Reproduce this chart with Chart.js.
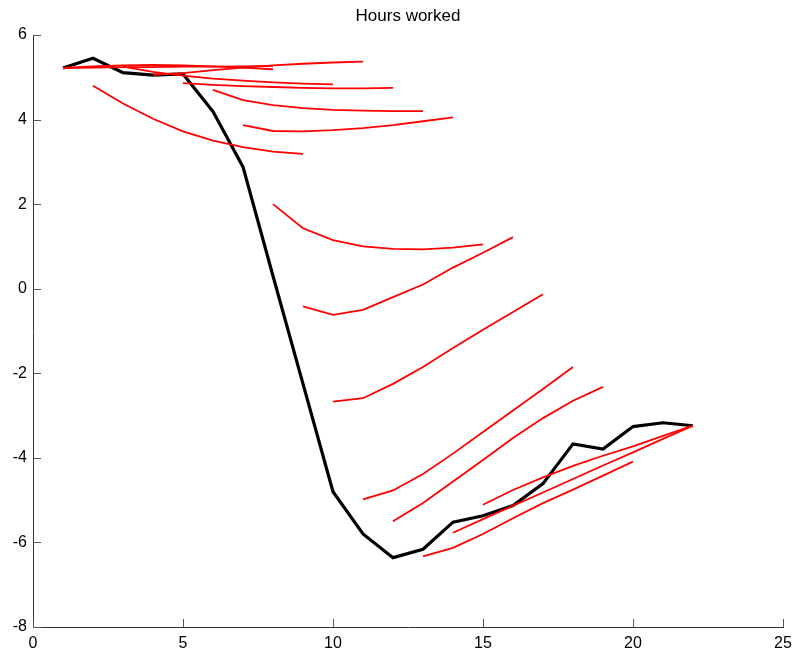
<!DOCTYPE html>
<html>
<head>
<meta charset="utf-8">
<script src="https://cdn.jsdelivr.net/npm/chart.js@4"></script>
<style>
  html, body { margin: 0; padding: 0; background: #fff; }
  #wrap { width: 795px; height: 658px; }
</style>
</head>
<body>
<div id="wrap"><canvas id="hoursChart" width="795" height="658"></canvas></div>
<script>
// actual series (black)
const periods = [1, 2, 3, 4, 5, 6, 7, 8, 9, 10, 11, 12, 13, 14, 15, 16, 17, 18, 19, 20, 21, 22];
const actual = [5.22, 5.45, 5.11, 5.05, 5.08, 4.19, 2.88, 0.3, -2.25, -4.8, -5.8, -6.36,
                -6.16, -5.52, -5.37, -5.13, -4.61, -3.67, -3.79, -3.26, -3.17, -3.24];

// forecast paths (red), each starts at a period
const forecastStarts = [1, 1, 2, 3, 4, 5, 6, 7, 8, 9, 10, 11, 12, 13, 14, 15];
const fc1a = [5.22, 5.26, 5.28, 5.29, 5.28, 5.26, 5.23, 5.19];
const fc1b = [5.22, 5.23, 5.24, 5.24, 5.25, 5.25, 5.26, 5.27];
const fc2 = [4.8, 4.38, 4.02, 3.72, 3.5, 3.35, 3.24, 3.19];
const fc3 = [5.25, 5.13, 5.04, 4.97, 4.92, 4.88, 4.85, 4.83];
const fc4 = [5.06, 5.1, 5.17, 5.23, 5.28, 5.32, 5.35, 5.37];
const fc5 = [4.86, 4.82, 4.79, 4.77, 4.75, 4.74, 4.74, 4.75];
const fc6 = [4.7, 4.46, 4.34, 4.27, 4.23, 4.21, 4.2, 4.2];
const fc7 = [3.87, 3.73, 3.72, 3.75, 3.8, 3.87, 3.96, 4.05];
const fc8 = [2.0, 1.43, 1.15, 1.0, 0.94, 0.93, 0.97, 1.05];
const fc9 = [-0.42, -0.62, -0.5, -0.2, 0.1, 0.5, 0.85, 1.22];
const fc10 = [-2.67, -2.59, -2.25, -1.85, -1.4, -0.97, -0.55, -0.13];
const fc11 = [-4.98, -4.77, -4.38, -3.9, -3.39, -2.88, -2.37, -1.85];
const fc12 = [-5.5, -5.07, -4.56, -4.05, -3.53, -3.06, -2.65, -2.32];
const fc13 = [-6.33, -6.13, -5.8, -5.43, -5.07, -4.75, -4.42, -4.09];
const fc14 = [-5.77, -5.45, -5.13, -4.82, -4.5, -4.18, -3.87, -3.55, -3.24];
const fc15 = [-5.11, -4.76, -4.46, -4.19, -3.95, -3.73, -3.48, -3.24];
const forecasts = [fc1a, fc1b, fc2, fc3, fc4, fc5, fc6, fc7, fc8, fc9, fc10, fc11, fc12, fc13, fc14, fc15];

// axis ticks
const xTicks = [0, 5, 10, 15, 20, 25];
const yTicks = [-8, -6, -4, -2, 0, 2, 4, 6];
const chartTitle = 'Hours worked';

const FONT = '"Liberation Sans", Arial, Helvetica, sans-serif';

function toPoints(start, vals) {
    return vals.map((v, i) => ({ x: start + i, y: v }));
}

const datasets = forecasts.map((vals, i) => ({
    label: 'forecast ' + forecastStarts[i],
    data: toPoints(forecastStarts[i], vals),
    borderColor: '#ff0000',
    borderWidth: 1.8,
    pointRadius: 0,
    tension: 0,
    order: 0
}));

datasets.push({
    label: chartTitle,
    data: periods.map((p, i) => ({ x: p, y: actual[i] })),
    borderColor: '#000000',
    borderWidth: 3.2,
    pointRadius: 0,
    tension: 0,
    order: 1
});

// tick marks pointing into the plot + title centred over the plot area
const axesExtras = {
    id: 'axesExtras',
    afterDraw(chart) {
        const { ctx, chartArea, scales } = chart;
        ctx.save();
        ctx.strokeStyle = '#555';
        ctx.lineWidth = 1;
        ctx.beginPath();
        scales.x.ticks.forEach(t => {
            const px = Math.round(scales.x.getPixelForValue(t.value)) + 0.5;
            ctx.moveTo(px, chartArea.bottom);
            ctx.lineTo(px, chartArea.bottom - 8);
        });
        scales.y.ticks.forEach(t => {
            const py = Math.round(scales.y.getPixelForValue(t.value)) + 0.5;
            ctx.moveTo(chartArea.left, py);
            ctx.lineTo(chartArea.left + 8, py);
        });
        ctx.stroke();

        ctx.fillStyle = '#000';
        ctx.font = '17px ' + FONT;
        ctx.textAlign = 'center';
        ctx.textBaseline = 'alphabetic';
        ctx.fillText(chartTitle, (chartArea.left + chartArea.right) / 2, 21);
        ctx.restore();
    }
};

const ctx = document.getElementById('hoursChart').getContext('2d');
new Chart(ctx, {
    type: 'line',
    data: { datasets },
    options: {
        responsive: false,
        animation: false,
        layout: { padding: { left: 0, right: 12, top: 35, bottom: 0 } },
        plugins: {
            legend: { display: false },
            tooltip: { enabled: false },
            title: { display: false }
        },
        scales: {
            x: {
                type: 'linear',
                min: 0,
                max: 25,
                afterBuildTicks: s => { s.ticks = xTicks.map(v => ({ value: v })); },
                afterFit: s => { s.height = 31; s.paddingLeft = 0; s.paddingRight = 0; },
                grid: { display: true, drawOnChartArea: false, drawTicks: false },
                border: { display: true, color: '#333', width: 1 },
                ticks: { color: '#000', padding: 7, maxRotation: 0, font: { family: FONT, size: 16 } }
            },
            y: {
                type: 'linear',
                min: -8,
                max: 6,
                afterBuildTicks: s => { s.ticks = yTicks.map(v => ({ value: v })); },
                afterFit: s => { s.width = 33; },
                grid: { display: true, drawOnChartArea: false, drawTicks: false },
                border: { display: true, color: '#333', width: 1 },
                ticks: { color: '#000', padding: 6, font: { family: FONT, size: 16 } }
            }
        }
    },
    plugins: [axesExtras]
});
</script>
</body>
</html>
